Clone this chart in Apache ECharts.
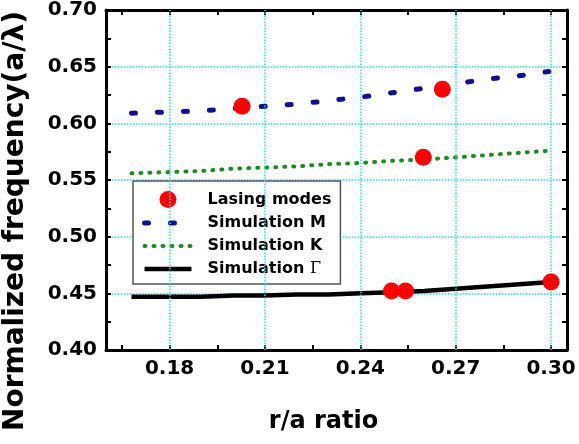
<!DOCTYPE html>
<html>
<head>
<meta charset="utf-8">
<script src="https://cdn.jsdelivr.net/npm/echarts@6/dist/echarts.min.js"></script>
<style>
  html, body { margin: 0; padding: 0; background: #fff; }
  #chart { width: 579px; height: 444px; }
</style>
</head>
<body>
<div id="chart"></div>
<script>
// r/a values for the simulated band edges
const rValues = [0.168, 0.18, 0.19, 0.20, 0.21, 0.22, 0.23, 0.24, 0.25, 0.26, 0.27, 0.28, 0.29, 0.30];
const simM = [0.609, 0.610, 0.611, 0.613, 0.615, 0.617, 0.620, 0.623, 0.627, 0.631, 0.635, 0.639, 0.642, 0.646];
const simK = [0.556, 0.557, 0.558, 0.560, 0.561, 0.562, 0.564, 0.565, 0.567, 0.568, 0.570, 0.572, 0.574, 0.576];
const simG = [0.447, 0.447, 0.447, 0.448, 0.448, 0.449, 0.449, 0.450, 0.451, 0.452, 0.454, 0.456, 0.458, 0.460];

// measured lasing modes
const lasingR = [0.2028, 0.2658, 0.2598, 0.2498, 0.2542, 0.300];
const lasingF = [0.615, 0.630, 0.570, 0.452, 0.452, 0.460];

// x ticks
const xMajor = [0.18, 0.21, 0.24, 0.27, 0.30];
const xMinor = [0.165, 0.195, 0.225, 0.255, 0.285];

const FONT = 'DejaVu Sans';
const gridColor = '#2fdcee';

const styleM = { color: '#10108f', width: 5, type: [4, 22], cap: 'round' };
const styleK = { color: '#1f8a1f', width: 4, type: [1, 8], cap: 'round' };
const styleG = { color: '#000', width: 4.5 };

const chart = echarts.init(document.getElementById('chart'));

const pairs = (xs, ys) => xs.map((x, i) => [x, ys[i]]);
const xTicks = xMajor.concat(xMinor).sort((a, b) => a - b);

const xAxisBase = {
  type: 'value',
  min: 0.16,
  max: 0.305,
  axisLine: { show: true, onZero: false, lineStyle: { color: '#000', width: 3 } },
  axisTick: { show: true, inside: true, length: 5, customValues: xTicks, lineStyle: { color: '#000', width: 2 } },
  splitLine: { show: false }
};
const yAxisBase = {
  type: 'value',
  min: 0.4,
  max: 0.7,
  interval: 0.05,
  axisLine: { show: true, onZero: false, lineStyle: { color: '#000', width: 3 } },
  axisTick: { show: true, inside: true, length: 5, lineStyle: { color: '#000', width: 2 } },
  minorTick: { show: true, splitNumber: 2, length: 5, lineStyle: { color: '#000', width: 2 } }
};

// line legend entries: hide the marker circle, keep the line sample
const noMarker = { opacity: 0 };

const option = {
  backgroundColor: '#fff',
  animation: false,
  grid: { left: 106, top: 10, right: 12, bottom: 94 },
  xAxis: [
    Object.assign({}, xAxisBase, {
      position: 'bottom',
      name: 'r/a ratio',
      nameLocation: 'middle',
      nameGap: 60,
      nameTextStyle: { fontFamily: FONT, fontWeight: 'bold', fontSize: 24, color: '#000', padding: [0, 26, 0, 0] },
      axisLabel: {
        customValues: xMajor, margin: 9,
        fontFamily: FONT, fontWeight: 'bold', fontSize: 20, color: '#000',
        formatter: v => v.toFixed(2)
      }
    }),
    Object.assign({}, xAxisBase, { position: 'top', axisLabel: { show: false } })
  ],
  yAxis: [
    Object.assign({}, yAxisBase, {
      position: 'left',
      splitLine: { show: true, lineStyle: { color: gridColor, type: 'dotted', width: 1.5 } },
      axisLabel: {
        margin: 9, fontFamily: FONT, fontWeight: 'bold', fontSize: 20, color: '#000',
        formatter: v => v.toFixed(2)
      }
    }),
    Object.assign({}, yAxisBase, { position: 'right', splitLine: { show: false }, axisLabel: { show: false } })
  ],
  graphic: [{
    type: 'text',
    x: 16,
    y: 221,
    rotation: Math.PI / 2,
    style: {
      text: 'Normalized frequency(a/λ)',
      font: 'bold 28px "DejaVu Sans"',
      fill: '#000',
      align: 'center',
      verticalAlign: 'middle'
    }
  }],
  legend: {
    orient: 'vertical',
    left: 133,
    top: 181,
    data: [
      { name: 'Lasing modes' },
      { name: 'Simulation M', itemStyle: noMarker, lineStyle: styleM },
      { name: 'Simulation K', itemStyle: noMarker, lineStyle: styleK },
      { name: 'Simulation Γ', itemStyle: noMarker, lineStyle: styleG }
    ],
    backgroundColor: '#fff',
    borderColor: '#555',
    borderWidth: 1.5,
    borderRadius: 0,
    padding: [10, 9, 7, 9],
    itemWidth: 47,
    itemHeight: 17,
    itemGap: 7,
    formatter: name => name === 'Simulation Γ' ? 'Simulation {g|Γ}' : name,
    textStyle: {
      fontFamily: FONT, fontWeight: 'bold', fontSize: 16, color: '#000',
      padding: [0, 0, 0, 11],
      rich: { g: { fontFamily: 'DejaVu Serif', fontWeight: 'normal', fontSize: 16, color: '#000' } }
    }
  },
  series: [
    {
      // vertical grid lines at the major x ticks
      name: 'grid',
      type: 'line',
      data: [],
      z: 1,
      silent: true,
      markLine: {
        silent: true,
        symbol: ['none', 'none'],
        label: { show: false },
        lineStyle: { color: gridColor, type: 'dotted', width: 1.5 },
        data: xMajor.map(v => ({ xAxis: v }))
      }
    },
    {
      name: 'Simulation M',
      type: 'line',
      data: pairs(rValues, simM),
      symbol: 'none',
      z: 3,
      lineStyle: styleM,
      itemStyle: { color: styleM.color }
    },
    {
      name: 'Simulation K',
      type: 'line',
      data: pairs(rValues, simK),
      symbol: 'none',
      z: 3,
      lineStyle: styleK,
      itemStyle: { color: styleK.color }
    },
    {
      name: 'Simulation Γ',
      type: 'line',
      data: pairs(rValues, simG),
      symbol: 'none',
      z: 3,
      lineStyle: styleG,
      itemStyle: { color: styleG.color }
    },
    {
      name: 'Lasing modes',
      type: 'scatter',
      data: pairs(lasingR, lasingF),
      symbol: 'circle',
      symbolSize: 17,
      z: 5,
      itemStyle: { color: '#ff0000', opacity: 1 }
    }
  ]
};

chart.setOption(option);
</script>
</body>
</html>
